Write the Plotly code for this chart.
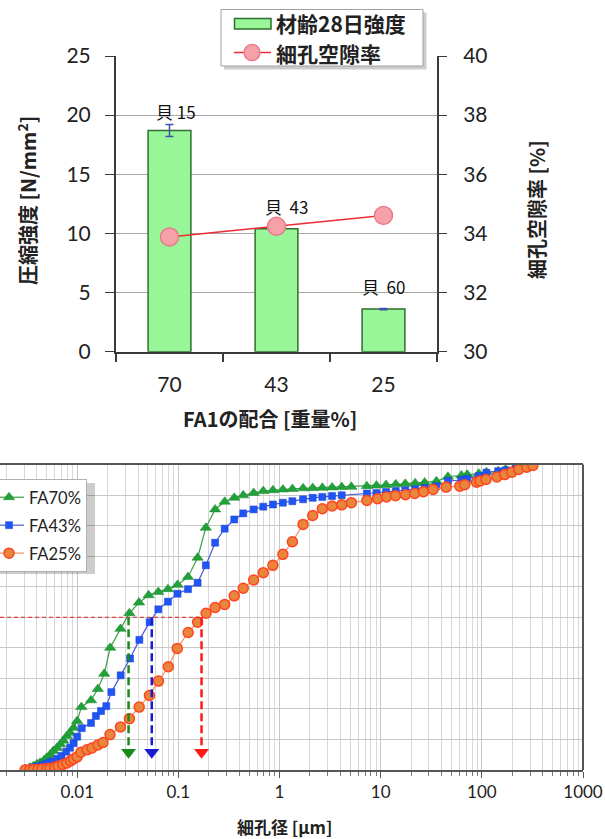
import plotly.graph_objects as go

W, H = 605, 839
def px(x): return x / W
def py(y): return 1 - y / H

# ---------------- data : top chart ----------------
fa_ratio = ["70", "43", "25"]
strength = [18.7, 10.4, 3.6]
strength_err = [0.5, 0.0, 0.05]
porosity = [33.88, 34.24, 34.61]
bar_labels = ["貝 15", "貝  43", "貝  60"]
top_series_names = ["材齢28日強度", "細孔空隙率"]

# ---------------- data : bottom chart (pore diameter um, cumulative %) ----------------
fa70_d = [0.00305, 0.0034, 0.0037, 0.0040, 0.0043, 0.0047, 0.0050, 0.0054, 0.0058, 0.0063,
          0.0068, 0.0073, 0.0079, 0.0085, 0.0092, 0.0100, 0.0110, 0.0137, 0.0160, 0.0185,
          0.0212, 0.0268, 0.0328, 0.0408, 0.0508, 0.0634, 0.0789, 0.0982, 0.1245, 0.155,
          0.187, 0.231, 0.287, 0.357, 0.438, 0.555, 0.691, 0.861, 1.08, 1.34, 1.71, 2.13,
          2.65, 3.31, 4.12, 5.13, 7.3, 9.08, 11.3, 14.1, 17.5, 21.9, 27.2, 35.5, 46.2, 62.8,
          71.6, 93.3, 111, 145, 172, 215, 267, 315]
fa70_v = [0.3, 0.8, 1.3, 1.9, 2.4, 3.2, 4.0, 5.0, 6.2, 7.2,
          8.4, 9.6, 11.1, 12.2, 13.8, 16.0, 20.6, 22.8, 26.5, 31.5,
          40.0, 46.2, 51.3, 54.8, 57.2, 58.3, 59.2, 60.6, 63.2, 69.5,
          79.3, 85.3, 87.8, 89.1, 89.9, 90.7, 91.3, 91.6, 91.8, 92.0, 92.2, 92.3,
          92.4, 92.5, 92.6, 92.7, 92.9, 93.1, 93.3, 93.5, 93.7, 93.9, 94.1, 94.5, 96.0, 96.4,
          96.7, 97.0, 97.5, 97.8, 98.4, 98.9, 99.5, 100.0]

fa43_d = [0.00305, 0.0034, 0.0037, 0.0041, 0.0046, 0.0050, 0.0054, 0.0058, 0.0064, 0.0070,
          0.0078, 0.0085, 0.0092, 0.0100, 0.0111, 0.0137, 0.0153, 0.0172, 0.0194, 0.0218,
          0.0269, 0.0333, 0.0412, 0.0520, 0.0634, 0.0789, 0.0982, 0.1245, 0.155, 0.187,
          0.231, 0.287, 0.357, 0.438, 0.555, 0.691, 0.861, 1.08, 1.34, 1.71, 2.13, 2.65,
          3.31, 4.12, 7.3, 9.08, 11.3, 14.1, 17.5, 21.9, 27.2, 35.5, 46.2, 62.8, 71.6,
          93.3, 111, 145, 172, 215, 267, 315]
fa43_v = [0.2, 0.5, 0.8, 1.2, 1.6, 2.1, 2.5, 2.9, 3.7, 4.6,
          6.0, 7.3, 8.8, 10.9, 13.7, 15.4, 17.7, 19.3, 20.9, 25.5,
          31.0, 36.5, 42.6, 48.4, 52.6, 55.1, 57.7, 59.2, 61.3, 67.0,
          74.4, 79.0, 82.0, 84.0, 85.3, 86.2, 86.9, 87.5, 88.0, 88.6, 89.1, 89.4,
          89.7, 89.9, 90.5, 90.7, 91.0, 91.3, 91.6, 91.9, 92.3, 92.9, 94.6, 94.9, 95.3,
          96.2, 97.3, 97.8, 98.1, 98.6, 99.5, 99.8]

fa25_d = [0.00305, 0.0034, 0.0037, 0.0041, 0.0045, 0.0050, 0.0054, 0.0060, 0.0065, 0.0072,
          0.0079, 0.0086, 0.0092, 0.0100, 0.0109, 0.0125, 0.0140, 0.0160, 0.0180, 0.0211,
          0.0268, 0.0328, 0.0410, 0.0518, 0.0636, 0.0796, 0.0975, 0.1250, 0.1550, 0.1880,
          0.231, 0.287, 0.357, 0.438, 0.555, 0.691, 0.861, 1.08, 1.34, 1.71, 2.13, 2.65,
          3.31, 4.12, 5.13, 7.3, 9.3, 11.4, 14.0, 17.6, 21.7, 26.5, 33.0, 44.4, 60.5, 67.8,
          88.5, 96, 110, 141, 168, 198, 231, 278, 320]
fa25_v = [0.0, 0.1, 0.1, 0.2, 0.3, 0.4, 0.6, 0.9, 1.3, 1.8,
          2.3, 3.0, 3.6, 4.3, 5.8, 6.6, 7.2, 8.2, 9.0, 11.6,
          14.1, 16.8, 20.6, 24.4, 29.1, 33.8, 39.8, 45.0, 48.4, 51.3,
          53.2, 54.2, 57.0, 59.5, 62.2, 64.6, 67.0, 70.6, 74.7, 80.4, 83.3, 85.5,
          86.4, 86.8, 87.5, 88.2, 88.8, 89.4, 89.8, 90.1, 90.5, 91.1, 91.8, 92.6, 92.9, 93.4,
          94.2, 94.6, 95.1, 95.9, 96.7, 97.5, 98.4, 99.1, 99.7]

d50 = [0.0322, 0.0546, 0.1695]          # median pore diameters (FA70, FA43, FA25)
d50_level = 50
arrow_tip = 5.8
log_tick_vals = [0.01, 0.1, 1, 10, 100, 1000]
log_tick_text = ["0.01", "0.1", "1", "10", "100", "1000"]

JP = "Noto Sans CJK JP"
NUM = "Lato, Noto Sans CJK JP"
DARK = "#3a3a3a"

BAR_FILL, BAR_LINE = "#98f598", "#2e6e2e"
POR_LINE, POR_FILL, POR_EDGE = "#ee2a36", "#f6a0a8", "#e87c8a"

fig = go.Figure()

# ---------------- top chart traces ----------------
fig.add_trace(go.Bar(
    x=fa_ratio, y=strength, name=top_series_names[0], width=0.4,
    marker=dict(color=BAR_FILL, line=dict(color=BAR_LINE, width=1.5)),
    error_y=dict(type="data", array=strength_err, color="#4050b0", thickness=1.5, width=4),
    xaxis="x", yaxis="y", showlegend=False,
))
fig.add_trace(go.Scatter(
    x=fa_ratio, y=porosity, name=top_series_names[1], mode="lines+markers",
    line=dict(color=POR_LINE, width=1.5),
    marker=dict(size=18, color=POR_FILL, line=dict(color=POR_EDGE, width=1.5)),
    xaxis="x", yaxis="y2", showlegend=False,
))

label_y = [20.3, 12.25, 5.5]
label_shift = [6, 10, 0]
for i, (txt, yy, sh) in enumerate(zip(bar_labels, label_y, label_shift)):
    fig.add_annotation(x=i, y=yy, xref="x", yref="y", text=txt, showarrow=False,
                       xshift=sh, xanchor="center", yanchor="middle",
                       font=dict(family=JP, size=17, color="#111"))

# ---------------- bottom chart traces ----------------
fig.add_trace(go.Scatter(
    x=fa70_d, y=fa70_v, name="FA70%", mode="lines+markers",
    line=dict(color="#3c9e46", width=1.2),
    marker=dict(symbol="triangle-up", size=10, color="#22a03a", line=dict(color="#1a8a30", width=0.5)),
    xaxis="x3", yaxis="y3", legend="legend2", legendgroup="g1",
))
fig.add_trace(go.Scatter(
    x=fa43_d, y=fa43_v, name="FA43%", mode="lines+markers",
    line=dict(color="#4a5ad8", width=1.2),
    marker=dict(symbol="square", size=7, color="#1f55f5", line=dict(color="#1a40d0", width=0.5)),
    xaxis="x3", yaxis="y3", legend="legend2", legendgroup="g2",
))
fig.add_trace(go.Scatter(
    x=fa25_d, y=fa25_v, name="FA25%", mode="lines+markers",
    line=dict(color="#f59060", width=1.2),
    marker=dict(symbol="circle", size=10, color="#e8863c", line=dict(color="#ff4422", width=1.5)),
    xaxis="x3", yaxis="y3", legend="legend2", legendgroup="g3",
))

# d50 guide lines
x_left = 10 ** -2.763
fig.add_trace(go.Scatter(
    x=[x_left, d50[2]], y=[d50_level, d50_level], mode="lines",
    line=dict(color="#e02020", width=1, dash="4px,3px"),
    xaxis="x3", yaxis="y3", showlegend=False, hoverinfo="skip",
))
arrow_colors = ["#1a8a1a", "#1a1ad0", "#ff1a1a"]
for dv, col in zip(d50, arrow_colors):
    fig.add_trace(go.Scatter(
        x=[dv, dv], y=[d50_level, arrow_tip + 1.6], mode="lines",
        line=dict(color=col, width=2.5, dash="8px,4px"),
        xaxis="x3", yaxis="y3", showlegend=False, hoverinfo="skip",
    ))
    fig.add_trace(go.Scatter(
        x=[dv], y=[arrow_tip], mode="markers",
        marker=dict(symbol="triangle-down", size=13, color=col),
        xaxis="x3", yaxis="y3", showlegend=False, hoverinfo="skip",
    ))

# ---------------- layout ----------------
tickfont_top = dict(family=NUM, size=21, color="#222")
fig.update_layout(
    width=W, height=H, autosize=False,
    margin=dict(l=0, r=0, t=0, b=0, autoexpand=False),
    paper_bgcolor="white", plot_bgcolor="white",
    showlegend=True,
    xaxis=dict(domain=[px(116), px(437)], anchor="y", type="category",
               categoryorder="array", categoryarray=fa_ratio, range=[-0.5, 2.5],
               tickson="boundaries", ticks="outside", ticklen=8, tickwidth=1.5, tickcolor=DARK,
               showline=True, linecolor=DARK, linewidth=2, showgrid=False, tickangle=0,
               ticklabelstandoff=13, tickfont=tickfont_top),
    yaxis=dict(domain=[py(351.7), py(56)], anchor="x", range=[0, 25], dtick=5,
               ticks="outside", ticklen=9, tickwidth=1.2, tickcolor=DARK,
               showline=True, linecolor=DARK, linewidth=2,
               showgrid=True, gridcolor="#a8a8a8", gridwidth=1, zeroline=False,
               ticklabelstandoff=10, tickfont=tickfont_top),
    yaxis2=dict(overlaying="y", side="right", anchor="x", range=[30, 40], dtick=2,
                ticks="outside", ticklen=8, tickwidth=1.2, tickcolor=DARK,
                showline=True, linecolor=DARK, linewidth=2, showgrid=False, zeroline=False,
                ticklabelstandoff=12, tickfont=tickfont_top),
    xaxis3=dict(domain=[0, px(583)], anchor="y3", type="log", range=[-2.763, 3],
                tickvals=log_tick_vals, ticktext=log_tick_text,
                ticks="outside", ticklen=6, tickcolor="#555", tickwidth=1,
                showline=True, linecolor="#555", linewidth=2, mirror=True,
                showgrid=True, gridcolor="#c8c8c8", gridwidth=1.3,
                minor=dict(ticks="outside", ticklen=4, tickcolor="#777", dtick="D1",
                           showgrid=True, gridcolor="#d8d8d8", gridwidth=1),
                tickfont=dict(family="Lato, Noto Sans", size=17, color="#222")),
    yaxis3=dict(domain=[py(770), py(464.5)], anchor="x3", range=[0, 100], dtick=10,
                showticklabels=False, ticks="", showline=False, zeroline=False,
                showgrid=True, gridcolor="#c8c8c8", gridwidth=1.3),
    legend2=dict(x=-12 / W, y=py(479), xanchor="left", yanchor="top",
                 bgcolor="white", bordercolor="#b0b0b0", borderwidth=1,
                 tracegroupgap=3.5, traceorder="grouped",
                 font=dict(family="Lato, Noto Sans", size=16.5, color="#222")),
)

# ---- top legend (drawn as a boxed key) ----
fig.add_shape(type="rect", xref="paper", yref="paper",
              x0=px(224), x1=px(426.5), y0=py(69.5), y1=py(12.5),
              fillcolor="rgba(0,0,0,0.20)", line=dict(width=0), layer="above")
fig.add_shape(type="rect", xref="paper", yref="paper",
              x0=px(221), x1=px(423), y0=py(66), y1=py(9.5),
              fillcolor="white", line=dict(color="#a0a0a0", width=1), layer="above")
fig.add_shape(type="rect", xref="paper", yref="paper",
              x0=px(234.5), x1=px(271), y0=py(29), y1=py(18.5),
              fillcolor=BAR_FILL, line=dict(color=BAR_LINE, width=1.5), layer="above")
fig.add_shape(type="line", xref="paper", yref="paper",
              x0=px(234), x1=px(271), y0=py(52.5), y1=py(52.5),
              line=dict(color=POR_LINE, width=1.5), layer="above")
fig.add_shape(type="circle", xref="paper", yref="paper",
              x0=px(244), x1=px(260), y0=py(60.5), y1=py(44.5),
              fillcolor=POR_FILL, line=dict(color=POR_EDGE, width=1.5), layer="above")
for name, yc in zip(top_series_names, [22.5, 52.5]):
    fig.add_annotation(xref="paper", yref="paper", x=px(274), y=py(yc),
                       text=name, showarrow=False, xanchor="left", yanchor="middle",
                       font=dict(family=JP, size=21, color="#222", weight="bold"))

# bottom legend shadow
fig.add_shape(type="rect", xref="paper", yref="paper",
              x0=px(-10), x1=px(95), y0=py(574), y1=py(483),
              fillcolor="rgba(0,0,0,0.20)", line=dict(width=0), layer="above")
# right border of lower chart
fig.add_shape(type="line", xref="x3 domain", yref="y3 domain", x0=1, x1=1, y0=0, y1=1,
              line=dict(color="#555", width=2), layer="above")

# axis titles
fig.add_annotation(xref="paper", yref="paper", x=px(27), y=py(201),
                   text="圧縮強度 [N/mm<sup>2</sup>]", textangle=-90, showarrow=False,
                   xanchor="center", yanchor="middle",
                   font=dict(family=JP, size=20, color="#222", weight="bold"))
fig.add_annotation(xref="paper", yref="paper", x=px(536), y=py(210),
                   text="細孔空隙率 [%]", textangle=-90, showarrow=False,
                   xanchor="center", yanchor="middle",
                   font=dict(family=JP, size=20, color="#222", weight="bold"))
fig.add_annotation(xref="paper", yref="paper", x=px(270), y=py(419),
                   text="FA1の配合 [重量%]", showarrow=False,
                   xanchor="center", yanchor="middle",
                   font=dict(family=JP, size=20, color="#222", weight="bold"))
fig.add_annotation(xref="paper", yref="paper", x=px(284), y=py(826.5),
                   text="細孔径 [μm]", showarrow=False,
                   xanchor="center", yanchor="middle",
                   font=dict(family=JP, size=17, color="#222", weight="bold"))

fig.write_html("out.html", config={"displayModeBar": False},
               post_script="document.body.style.margin='0px';document.body.style.overflow='hidden';")
